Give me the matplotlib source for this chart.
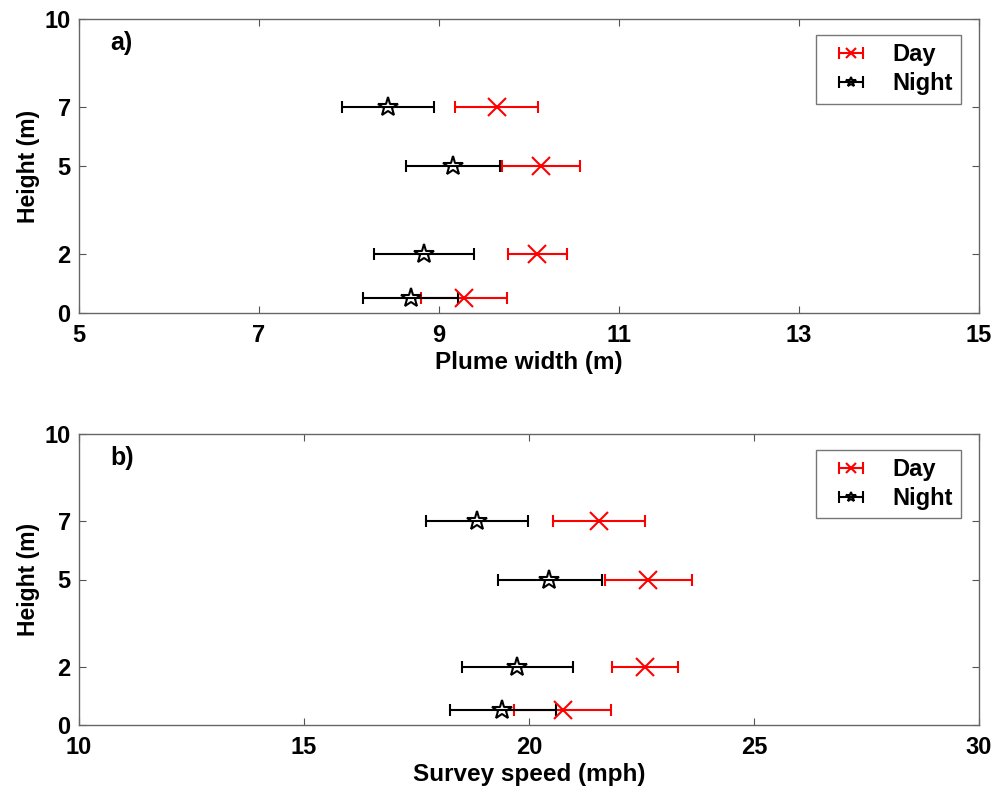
import matplotlib
matplotlib.use("Agg")
import matplotlib.pyplot as plt
import numpy as np

plt.rcParams['font.family'] = ['Liberation Sans', 'DejaVu Sans']
plt.rcParams['font.weight'] = 'bold'

heights = [7, 5, 2, 0.5]

# Panel a: plume width (m)
width_day = [9.64, 10.13, 10.09, 9.28]
width_day_lo = [9.18, 9.70, 9.77, 8.80]
width_day_hi = [10.10, 10.57, 10.42, 9.76]
width_night = [8.43, 9.15, 8.83, 8.69]
width_night_lo = [7.92, 8.63, 8.28, 8.16]
width_night_hi = [8.94, 9.68, 9.39, 9.21]

# Panel b: survey speed (mph)
speed_day = [21.55, 22.64, 22.57, 20.76]
speed_day_lo = [20.53, 21.69, 21.85, 19.67]
speed_day_hi = [22.58, 23.62, 23.30, 21.83]
speed_night = [18.85, 20.44, 19.74, 19.41]
speed_night_lo = [17.72, 19.31, 18.51, 18.24]
speed_night_hi = [19.98, 21.63, 20.98, 20.60]

yticks = [0, 2, 5, 7, 10]

fig = plt.figure(figsize=(9.93, 7.97), dpi=100)
W, H = 993, 797
ax1 = fig.add_axes([79 / W, 1 - 313 / H, 900 / W, 294 / H])
ax2 = fig.add_axes([79 / W, 1 - 725 / H, 900 / W, 291 / H])

def panel(ax, d, dlo, dhi, n, nlo, nhi, xlim, xticks, xlabel, tag):
    d = np.array(d); n = np.array(n)
    ed = [d - np.array(dlo), np.array(dhi) - d]
    en = [n - np.array(nlo), np.array(nhi) - n]
    ax.errorbar(d, heights, xerr=ed, fmt='x', color='red', ecolor='red',
                markersize=13, markeredgewidth=1.5, elinewidth=1.5,
                capsize=4.5, capthick=1.5, label='Day')
    ax.errorbar(n, heights, xerr=en, fmt='*', color='black', ecolor='black',
                markerfacecolor='none', markeredgecolor='black',
                markersize=15, markeredgewidth=1.5, elinewidth=1.5,
                capsize=4.5, capthick=1.5, label='Night')
    ax.set_xlim(*xlim)
    ax.set_ylim(0, 10)
    ax.set_xticks(xticks)
    ax.set_yticks(yticks)
    ax.tick_params(direction='in', length=5, width=0.8, color='#555555',
                   top=True, right=True, labelsize=17)
    ax.tick_params(axis='x', pad=8)
    ax.tick_params(axis='y', pad=6)
    for lab in ax.get_xticklabels() + ax.get_yticklabels():
        lab.set_fontweight('bold')
    for s in ax.spines.values():
        s.set_color('#666666')
        s.set_linewidth(1.0)
    ax.set_xlabel(xlabel, fontsize=17.5, fontweight='bold', labelpad=3)
    ax.set_ylabel('Height (m)', fontsize=16.5, fontweight='bold', labelpad=3)
    ax.text(0.035, 0.96, tag, transform=ax.transAxes, fontsize=18,
            fontweight='bold', va='top', ha='left')
    leg = ax.legend(loc='upper right', bbox_to_anchor=(0.98, 0.945),
                    fontsize=17, frameon=True, fancybox=False,
                    edgecolor='#555555', handlelength=2.3, borderpad=0.35,
                    labelspacing=0.25, handletextpad=0.6, borderaxespad=0,
                    markerscale=0.5)
    leg.get_frame().set_linewidth(1.0)
    for t in leg.get_texts():
        t.set_fontweight('bold')

panel(ax1, width_day, width_day_lo, width_day_hi,
      width_night, width_night_lo, width_night_hi,
      (5, 15), [5, 7, 9, 11, 13, 15], 'Plume width (m)', 'a)')
panel(ax2, speed_day, speed_day_lo, speed_day_hi,
      speed_night, speed_night_lo, speed_night_hi,
      (10, 30), [10, 15, 20, 25, 30], 'Survey speed (mph)', 'b)')

fig.savefig('out.png', dpi=100)
